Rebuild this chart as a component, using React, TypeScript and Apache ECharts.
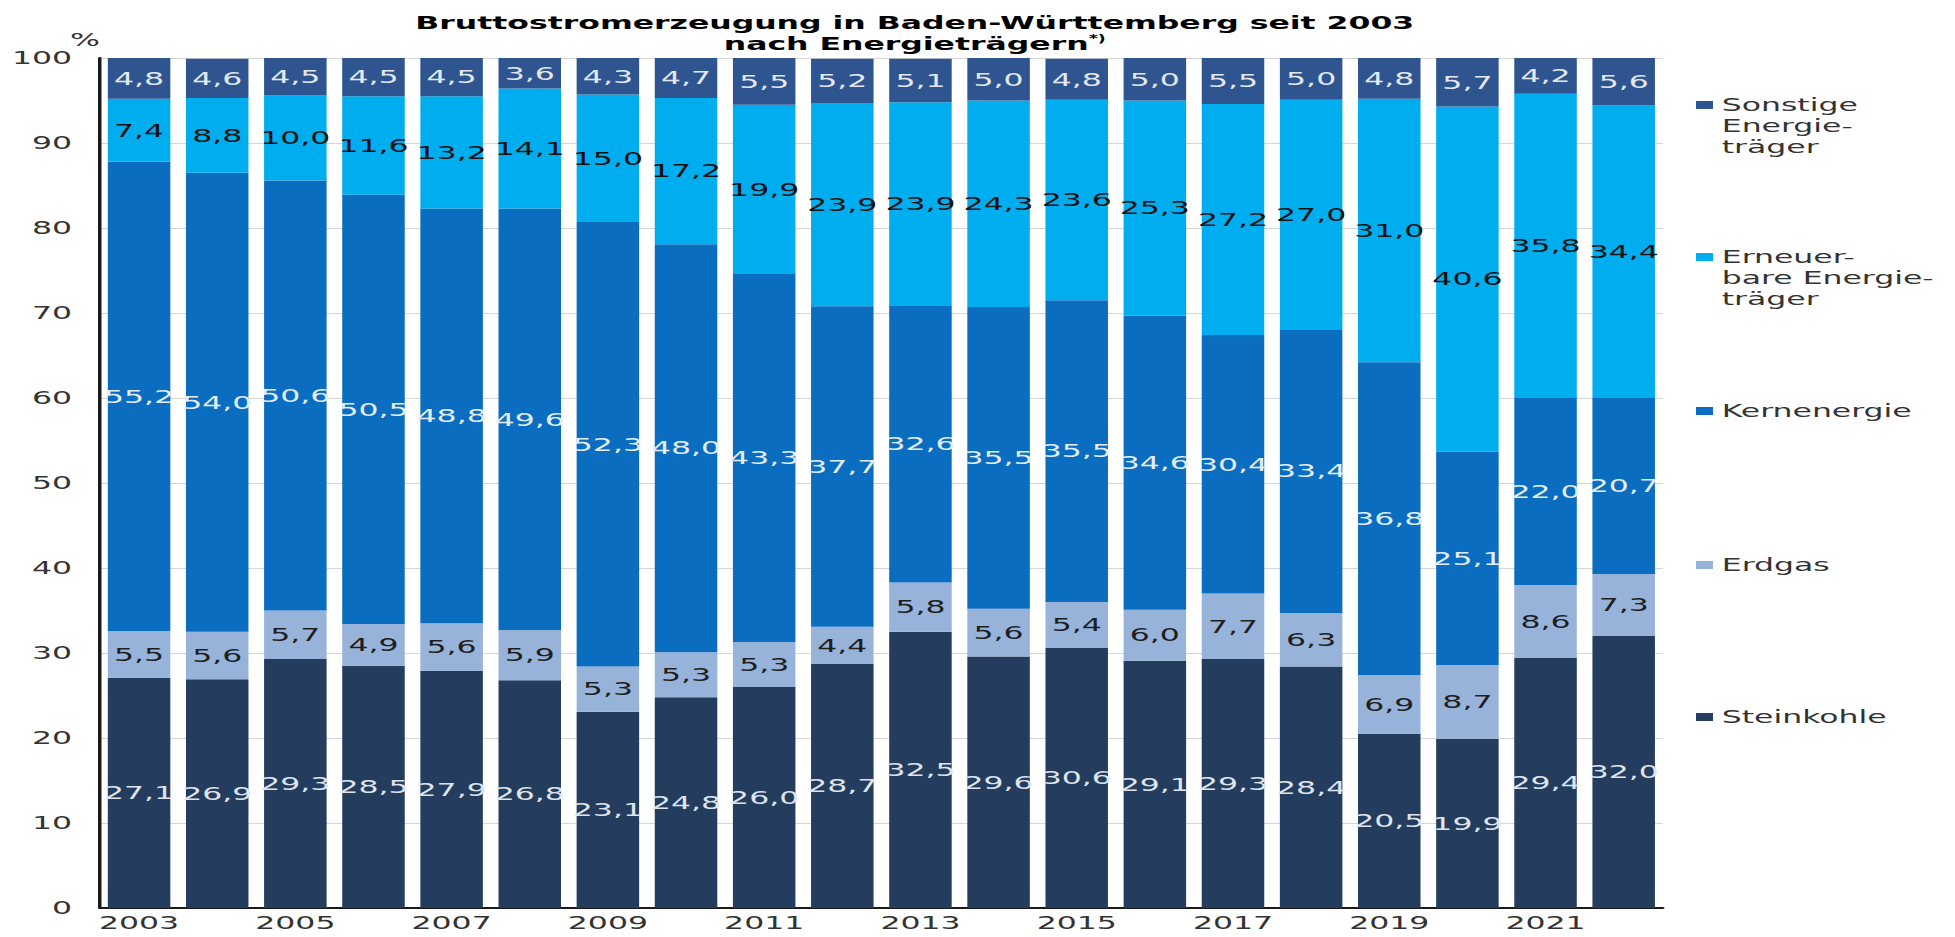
import React, { useEffect, useRef } from "react";
import * as echarts from "echarts";

// ---- data ----
const years = ["2003","2004","2005","2006","2007","2008","2009","2010","2011","2012","2013","2014","2015","2016","2017","2018","2019","2020","2021","2022"];
const steinkohle = [27.1, 26.9, 29.3, 28.5, 27.9, 26.8, 23.1, 24.8, 26.0, 28.7, 32.5, 29.6, 30.6, 29.1, 29.3, 28.4, 20.5, 19.9, 29.4, 32.0];
const erdgas = [5.5, 5.6, 5.7, 4.9, 5.6, 5.9, 5.3, 5.3, 5.3, 4.4, 5.8, 5.6, 5.4, 6.0, 7.7, 6.3, 6.9, 8.7, 8.6, 7.3];
const kernenergie = [55.2, 54.0, 50.6, 50.5, 48.8, 49.6, 52.3, 48.0, 43.3, 37.7, 32.6, 35.5, 35.5, 34.6, 30.4, 33.4, 36.8, 25.1, 22.0, 20.7];
const erneuerbare = [7.4, 8.8, 10.0, 11.6, 13.2, 14.1, 15.0, 17.2, 19.9, 23.9, 23.9, 24.3, 23.6, 25.3, 27.2, 27.0, 31.0, 40.6, 35.8, 34.4];
const sonstige = [4.8, 4.6, 4.5, 4.5, 4.5, 3.6, 4.3, 4.7, 5.5, 5.2, 5.1, 5.0, 4.8, 5.0, 5.5, 5.0, 4.8, 5.7, 4.2, 5.6];
const yTicks = [0, 10, 20, 30, 40, 50, 60, 70, 80, 90, 100];

const titleLine1 = "Bruttostromerzeugung in Baden-Württemberg seit 2003";
const titleLine2 = "nach Energieträgern";

// ---- layout (the reference is horizontally stretched) ----
const W = 1955;
const H = 937;
const K = 1.75; // horizontal stretch
const IW = W / K;
const px = (real: number) => real / K;

const FONT = "DejaVu Sans";
const fmt = (v: number) => v.toFixed(1).replace(".", ",");

const seriesDefs = [
  { name: "Steinkohle", data: steinkohle, color: "#243d5f", label: "#dfe4ec", legend: "Steinkohle", lines: 1, cy: 717 },
  { name: "Erdgas", data: erdgas, color: "#97b3d9", label: "#1e1e1e", legend: "Erdgas", lines: 1, cy: 565 },
  { name: "Kernenergie", data: kernenergie, color: "#0a6dbf", label: "#e3edf8", legend: "Kernenergie", lines: 1, cy: 411 },
  { name: "Erneuerbare Energieträger", data: erneuerbare, color: "#00adee", label: "#111111", legend: "Erneuer-\nbare Energie-\nträger", lines: 3, cy: 257 },
  { name: "Sonstige Energieträger", data: sonstige, color: "#2f5590", label: "#e3e8f0", legend: "Sonstige\nEnergie-\nträger", lines: 3, cy: 105 },
];

const LH = 21;

export default function App() {
  const ref = useRef<HTMLDivElement>(null);
  useEffect(() => {
    if (!ref.current) return;
    const chart = echarts.init(ref.current, undefined, { renderer: "svg" });
    const legends = seriesDefs.map((s) => {
      // blank lines above so that the first text line sits level with the icon
      const blank = "\n".repeat(s.lines - 1);
      const total = s.lines * 2 - 1;
      return {
        data: [s.name],
        left: px(1696),
        top: s.cy - (total * LH) / 2,
        orient: "vertical",
        padding: 0,
        itemWidth: px(17),
        itemHeight: 8,
        itemGap: 0,
        icon: "rect",
        formatter: () => blank + s.legend,
        textStyle: {
          fontFamily: FONT,
          fontSize: 18,
          lineHeight: LH,
          color: "#333333",
        },
      };
    });
    chart.setOption({
      animation: false,
      textStyle: { fontFamily: FONT },
      title: {
        text: titleLine1 + "\n{n|" + titleLine2 + "}{s|*)}",
        left: px(906),
        top: 7,
        textAlign: "center",
        textStyle: {
          fontFamily: FONT,
          fontSize: 18,
          fontWeight: "bold",
          color: "#000000",
          lineHeight: 21,
          rich: {
            n: { fontFamily: FONT, fontSize: 18, fontWeight: "bold", color: "#000000", lineHeight: 21 },
            s: { fontFamily: FONT, fontSize: 10, fontWeight: "bold", color: "#000000", verticalAlign: "top", lineHeight: 21, padding: [0, 0, 6, 0] },
          },
        },
      },
      legend: legends,
      grid: {
        left: px(100),
        right: IW - px(1663),
        top: 58,
        bottom: H - 908,
        containLabel: false,
      },
      xAxis: {
        type: "category",
        data: years,
        axisLine: { show: true, lineStyle: { color: "#1a1a1a", width: 2 } },
        axisTick: { show: false },
        axisLabel: { interval: 1, fontFamily: FONT, fontSize: 18, lineHeight: 18, color: "#333333", margin: 6 },
      },
      yAxis: {
        type: "value",
        min: yTicks[0],
        max: yTicks[yTicks.length - 1],
        interval: yTicks[1] - yTicks[0],
        name: "%",
        nameLocation: "end",
        nameGap: 6,
        nameTextStyle: { fontFamily: FONT, fontSize: 18, color: "#333333", align: "right" },
        axisLine: { show: true, lineStyle: { color: "#1a1a1a", width: 2 } },
        axisTick: { show: false },
        axisLabel: { fontFamily: FONT, fontSize: 18, color: "#333333", margin: px(28) },
        splitLine: { show: true, lineStyle: { color: "#d6d6d6", width: 1 } },
      },
      series: seriesDefs.map((s) => ({
        name: s.name,
        type: "bar",
        stack: "total",
        data: s.data,
        barCategoryGap: "20%",
        itemStyle: { color: s.color },
        label: {
          show: true,
          position: "inside",
          formatter: (p: any) => fmt(p.value),
          fontFamily: FONT,
          fontSize: 18,
          color: s.label,
        },
      })),
    });
    return () => chart.dispose();
  }, []);
  return (
    <div
      style={{
        position: "fixed",
        left: 0,
        top: 0,
        width: IW,
        height: H,
        transform: `scaleX(${K})`,
        transformOrigin: "0 0",
        background: "#ffffff",
      }}
    >
      <div ref={ref} style={{ width: IW, height: H }} />
    </div>
  );
}
